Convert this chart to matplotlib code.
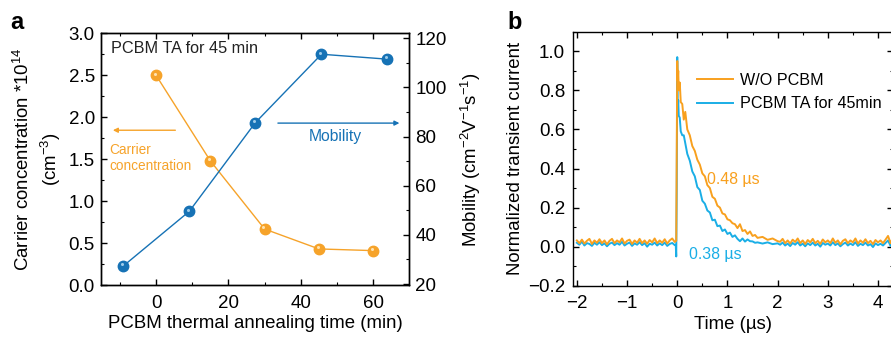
import matplotlib
matplotlib.use("Agg")
import matplotlib.pyplot as plt
import matplotlib.transforms as mtransforms
from matplotlib.ticker import MultipleLocator

plt.rcParams['font.family'] = ['Liberation Sans', 'DejaVu Sans']
plt.rcParams['mathtext.fontset'] = 'custom'
plt.rcParams['mathtext.rm'] = 'Liberation Sans'
plt.rcParams['mathtext.it'] = 'Liberation Sans:italic'
plt.rcParams['axes.linewidth'] = 1.0

# ---- panel a data ----
time_cc = [0, 15, 30, 45, 60]
carrier = [2.5, 1.48, 0.667, 0.43, 0.41]
time_mob = [-9.0, 9.2, 27.4, 45.7, 63.9]
mobility = [27.4, 49.6, 85.6, 113.5, 111.5]

# ---- panel b data ----
t_base_l = [-2.00, -1.95, -1.90, -1.85, -1.80, -1.75, -1.70, -1.65, -1.60, -1.55,
            -1.50, -1.45, -1.40, -1.35, -1.30, -1.25, -1.20, -1.15, -1.10, -1.05,
            -1.00, -0.95, -0.90, -0.85, -0.80, -0.75, -0.70, -0.65, -0.60, -0.55,
            -0.50, -0.45, -0.40, -0.35, -0.30, -0.25, -0.20, -0.15, -0.10, -0.05]
t_decay = [0.00, 0.01, 0.02, 0.03, 0.05, 0.07, 0.10, 0.13, 0.16, 0.20,
           0.25, 0.30, 0.35, 0.40, 0.45, 0.50, 0.55, 0.60, 0.65, 0.70,
           0.75, 0.80, 0.85, 0.90, 0.95, 1.00, 1.05, 1.10, 1.15, 1.20,
           1.25, 1.30, 1.35, 1.40, 1.45, 1.50, 1.55, 1.60, 1.70, 1.80,
           1.90, 2.00]
t_base_r = [2.05, 2.10, 2.15, 2.20, 2.25, 2.30, 2.35, 2.40, 2.45, 2.50,
            2.55, 2.60, 2.65, 2.70, 2.75, 2.80, 2.85, 2.90, 2.95, 3.00,
            3.05, 3.10, 3.15, 3.20, 3.25, 3.30, 3.35, 3.40, 3.45, 3.50,
            3.55, 3.60, 3.65, 3.70, 3.75, 3.80, 3.85, 3.90, 3.95, 4.00,
            4.05, 4.10, 4.15, 4.20, 4.25, 4.30]

wo_base_l = [0.032, 0.018, 0.036, 0.016, 0.030, 0.040, 0.014, 0.032, 0.020, 0.038,
             0.018, 0.032, 0.012, 0.030, 0.040, 0.018, 0.032, 0.022, 0.042, 0.016,
             0.030, 0.036, 0.014, 0.032, 0.020, 0.040, 0.018, 0.032, 0.015, 0.034,
             0.022, 0.042, 0.018, 0.032, 0.020, 0.038, 0.016, 0.032, 0.042, 0.024]
wo_edge_t = [-0.02]
wo_edge = [0.030]
wo_decay = [0.950, 0.850, 0.900, 0.800, 0.840, 0.740, 0.730, 0.650, 0.690, 0.600,
            0.570, 0.515, 0.490, 0.445, 0.420, 0.375, 0.360, 0.315, 0.300, 0.255,
            0.245, 0.210, 0.200, 0.170, 0.165, 0.140, 0.135, 0.120, 0.115, 0.095,
            0.115, 0.080, 0.085, 0.065, 0.078, 0.055, 0.060, 0.045, 0.050, 0.035,
            0.042, 0.028]
wo_base_r = [0.025, 0.040, 0.018, 0.032, 0.016, 0.036, 0.024, 0.042, 0.018, 0.032,
             0.014, 0.034, 0.022, 0.040, 0.018, 0.030, 0.014, 0.037, 0.022, 0.032,
             0.018, 0.042, 0.020, 0.032, 0.012, 0.030, 0.038, 0.018, 0.032, 0.022,
             0.042, 0.016, 0.032, 0.020, 0.038, 0.018, 0.030, 0.013, 0.034, 0.022,
             0.032, 0.018, 0.036, 0.055, 0.018, 0.048]

ta_base_l = [0.020, 0.010, 0.026, 0.006, 0.018, 0.014, 0.004, 0.020, 0.010, 0.023,
             0.008, 0.017, 0.002, 0.015, 0.021, 0.008, 0.018, 0.010, 0.025, 0.006,
             0.015, 0.021, 0.004, 0.017, 0.010, 0.023, 0.008, 0.018, 0.000, 0.015,
             0.010, 0.021, 0.006, 0.017, 0.008, 0.021, 0.004, 0.014, 0.019, 0.008]
ta_edge_t = [-0.03, -0.02, -0.01]
ta_edge = [0.010, -0.050, 0.300]
ta_decay = [0.970, 0.700, 0.750, 0.670, 0.660, 0.590, 0.570, 0.570, 0.530, 0.475,
            0.440, 0.385, 0.360, 0.305, 0.290, 0.235, 0.220, 0.185, 0.175, 0.135,
            0.138, 0.105, 0.108, 0.080, 0.088, 0.065, 0.072, 0.050, 0.058, 0.040,
            0.028, 0.042, 0.026, 0.037, 0.028, 0.027, 0.020, 0.022, 0.016, 0.022,
            0.013, 0.017]
ta_base_r = [0.010, 0.021, 0.006, 0.016, 0.003, 0.019, 0.010, 0.023, 0.006, 0.016,
             0.002, 0.017, 0.008, 0.021, 0.006, 0.015, 0.000, 0.019, 0.010, 0.016,
             0.006, 0.023, 0.008, 0.017, 0.002, 0.013, 0.021, 0.006, 0.016, 0.008,
             0.023, 0.004, 0.015, 0.008, 0.021, 0.006, 0.013, -0.002, 0.017, 0.008,
             0.015, 0.006, 0.019, 0.032, 0.004, 0.026]

t_wo = t_base_l + wo_edge_t + t_decay + t_base_r
y_wo = wo_base_l + wo_edge + wo_decay + wo_base_r
t_ta = t_base_l + ta_edge_t + t_decay + t_base_r
y_ta = ta_base_l + ta_edge + ta_decay + ta_base_r

ORANGE = '#F6A32A'
BLUE = '#1672B5'
B_ORANGE = '#F8A01E'
B_CYAN = '#1AAEE6'

TICK_FS = 13.5
LABEL_FS = 13.4

fig = plt.figure(figsize=(8.91, 3.41), dpi=100)


def style_ticks(ax, **kw):
    ax.tick_params(which='both', direction='in', labelsize=TICK_FS, **kw)
    ax.tick_params(which='major', length=4, width=1)
    ax.tick_params(which='minor', length=2.5, width=0.8)
    ax.tick_params(axis='x', which='major', pad=7)
    ax.tick_params(axis='y', which='major', pad=4.5)


def sphere(ax, x, y, color, light):
    ax.plot(x, y, 'o', ms=7.5, color=color, mec=color, zorder=4)
    off = mtransforms.offset_copy(ax.transData, fig=fig, x=-1.0, y=1.2, units='points')
    ax.plot(x, y, 'o', ms=2.2, color=light, mec='none', transform=off, zorder=5)


def minus(fmt):
    return plt.FuncFormatter(lambda v, p: (fmt % v).replace('-', '\u2212'))


# ---------------- panel a ----------------
ax1 = fig.add_axes([0.1134, 0.1642, 0.3457, 0.738])
ax1.plot(time_cc, carrier, '-', color=ORANGE, lw=1.0, zorder=3)
sphere(ax1, time_cc, carrier, ORANGE, '#FFE3B0')
ax1.set_xlim(-15.2, 69.9)
ax1.set_ylim(0, 3.0)
ax1.set_xticks([0, 20, 40, 60])
ax1.xaxis.set_minor_locator(MultipleLocator(10))
ax1.yaxis.set_major_locator(MultipleLocator(0.5))
ax1.yaxis.set_minor_locator(MultipleLocator(0.25))
style_ticks(ax1, top=True, right=False)
ax1.yaxis.set_major_formatter(plt.FormatStrFormatter('%.1f'))
ax1.set_xlabel('PCBM thermal annealing time (min)', fontsize=LABEL_FS, labelpad=2.5)
ax1.set_ylabel('Carrier concentration *10$^{14}$\n(cm$^{-3}$)', fontsize=LABEL_FS,
               labelpad=4, linespacing=1.35)

ax2 = ax1.twinx()
ax2.plot(time_mob, mobility, '-', color=BLUE, lw=1.0, zorder=3)
sphere(ax2, time_mob, mobility, BLUE, '#9CCBEA')
ax2.set_ylim(19.6, 122)
ax2.yaxis.set_major_locator(MultipleLocator(20))
ax2.yaxis.set_minor_locator(MultipleLocator(10))
style_ticks(ax2, right=True)
ax2.set_ylabel('Mobility (cm$^{-2}$V$^{-1}$s$^{-1}$)', fontsize=LABEL_FS, labelpad=8.5)

ax1.text(-12.5, 2.82, 'PCBM TA for 45 min', fontsize=11.7, va='center', ha='left', color='#222222')
ax1.annotate('', xy=(-12.7, 1.845), xytext=(6.1, 1.845),
             arrowprops=dict(arrowstyle='-|>', color=ORANGE, lw=1.0, mutation_scale=7))
ax1.text(-13.0, 1.69, 'Carrier\nconcentration', fontsize=9.8, va='top', ha='left',
         color=ORANGE, linespacing=1.2)
ax1.annotate('', xy=(68.0, 1.93), xytext=(32.9, 1.93),
             arrowprops=dict(arrowstyle='-|>', color=BLUE, lw=1.0, mutation_scale=7))
ax1.text(49.6, 1.77, 'Mobility', fontsize=11.3, va='center', ha='center', color=BLUE)

fig.text(0.011, 0.935, 'a', fontsize=17, fontweight='bold', va='center')

# ---------------- panel b ----------------
ax3 = fig.add_axes([0.6435, 0.162, 0.3588, 0.745])
l_ta, = ax3.plot(t_ta, y_ta, '-', color=B_CYAN, lw=1.4)
l_wo, = ax3.plot(t_wo, y_wo, '-', color=B_ORANGE, lw=1.4)
ax3.set_xlim(-2.07, 4.3)
ax3.set_ylim(-0.2, 1.1)
ax3.xaxis.set_major_locator(MultipleLocator(1))
ax3.xaxis.set_minor_locator(MultipleLocator(0.5))
ax3.yaxis.set_major_locator(MultipleLocator(0.2))
ax3.yaxis.set_minor_locator(MultipleLocator(0.1))
style_ticks(ax3, top=True, right=True)
ax3.tick_params(axis='y', which='major', pad=6)
ax3.yaxis.set_major_formatter(minus('%.1f'))
ax3.xaxis.set_major_formatter(minus('%.0f'))
ax3.set_xlabel('Time (µs)', fontsize=LABEL_FS, labelpad=2.5)
ax3.set_ylabel('Normalized transient current', fontsize=LABEL_FS, labelpad=3)
ax3.legend([l_wo, l_ta], ['W/O PCBM', 'PCBM TA for 45min'], frameon=False, fontsize=11.6,
           loc='upper left', bbox_to_anchor=(0.386, 0.837), handlelength=2.25,
           handletextpad=0.45, labelspacing=0.5, borderpad=0, borderaxespad=0)
ax3.text(0.60, 0.346, '0.48 µs', fontsize=11.4, color=B_ORANGE, va='center', ha='left')
ax3.text(0.225, -0.038, '0.38 µs', fontsize=11.4, color=B_CYAN, va='center', ha='left')

fig.text(0.570, 0.935, 'b', fontsize=17, fontweight='bold', va='center')

fig.savefig('out.png', dpi=100)
